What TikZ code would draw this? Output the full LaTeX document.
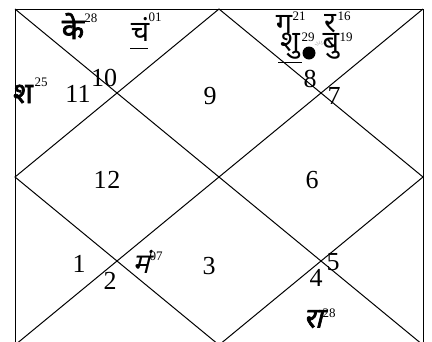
\documentclass[tikz,border=0pt]{standalone}
\usepackage{fontspec}
\setmainfont{Liberation Serif}
\newfontfamily\dev[Script=Devanagari]{Noto Sans}
\newfontfamily\devb[Script=Devanagari,FakeBold=2.5]{Noto Sans}
\newfontfamily\devsl[Script=Devanagari,FakeSlant=0.25]{Noto Sans}
\newfontfamily\devbsl[Script=Devanagari,FakeSlant=0.25,FakeBold=2.5]{Noto Sans}
\begin{document}
\begin{tikzpicture}[x=1pt,y=-1pt,
  num/.style={inner sep=0pt,font=\fontsize{26}{26}\selectfont},
  sup/.style={inner sep=0pt,font=\fontsize{13}{13}\selectfont},
  pl/.style={inner sep=0pt,font=\fontsize{29}{29}\selectfont\dev},
  plb/.style={inner sep=0pt,font=\fontsize{29}{29}\selectfont\devb},
  plsl/.style={inner sep=0pt,font=\fontsize{28}{28}\selectfont\devsl},
  plbsl/.style={inner sep=0pt,font=\fontsize{28}{28}\selectfont\devbsl},
  chart/.style={line width=1pt,black},
  uline/.style={line width=1pt,black},
  ray/.style={line width=0.6pt,black!25}]
\useasboundingbox (0,0) rectangle (432,341);
\clip (0,0) rectangle (432,341);
% frame coordinates
\coordinate (TL) at (15,9);
\coordinate (TR) at (423,9);
\coordinate (BL) at (15,345);
\coordinate (BR) at (423,345);
\coordinate (T) at (219,9);
\coordinate (L) at (15,177);
\coordinate (R) at (423,177);
\coordinate (B) at (219,345);
\draw[chart] (BL) -- (TL) -- (TR) -- (BR);
\draw[chart] (TL) -- (BR);
\draw[chart] (TR) -- (BL);
\draw[chart] (T) -- (L) -- (B) -- (R) -- cycle;
% house numbers
\node[num] (h10) at (104,78) {10};
\node[num] (h11) at (78,94) {11};
\node[num] (h9) at (210,96) {9};
\node[num] (h8) at (310,79) {8};
\node[num] (h7) at (334,96) {7};
\node[num] (h12) at (107,180) {1\kern1pt 2};
\node[num] (h6) at (312,180) {6};
\node[num] (h1) at (79,264) {1};
\node[num] (h2) at (110,281) {2};
\node[num] (h3) at (209,266) {3};
\node[num] (h4) at (316,278) {4};
\node[num] (h5) at (333,262) {5};
% planets
\node[plb] (ke) at (73,26) {के};
\node[sup] (ke28) at (91,18) {28};
\node[pl] (ch) at (140,29) {चं};
\node[sup] (ch01) at (155,17) {01};
\draw[uline] (130,48) -- (148,48);
\node[plb] (sha) at (23,94) {श};
\node[sup] (sha25) at (41,82) {25};
\node[pl] (gu) at (284,24) {ग};
\node[sup] (gu21) at (299,16) {21};
\node[pl] (ra) at (330,24) {र};
\node[sup] (ra16) at (344,16) {16};
\node[pl] (shu) at (290,46) {शु};
\node[sup] (shu29) at (308,37) {29};
\draw[uline] (278,62) -- (302,62);
\node[circle,fill=black,inner sep=0pt,minimum size=13pt] (dot) at (309,53) {};
\foreach \a in {200,230,260,290,320} {
  \draw[ray] (320,46) ++(\a:2) -- ++(\a:3.5);
}
\node[pl] (bu) at (331,46) {बु};
\node[sup] (bu19) at (346,37) {19};
\node[plsl] (ma) at (141,262) {मं};
\node[sup] (ma07) at (156,256) {07};
\node[plbsl] (rahu) at (313,319) {रा};
\node[sup] (rahu28) at (329,313) {28};
\end{tikzpicture}
\end{document}
